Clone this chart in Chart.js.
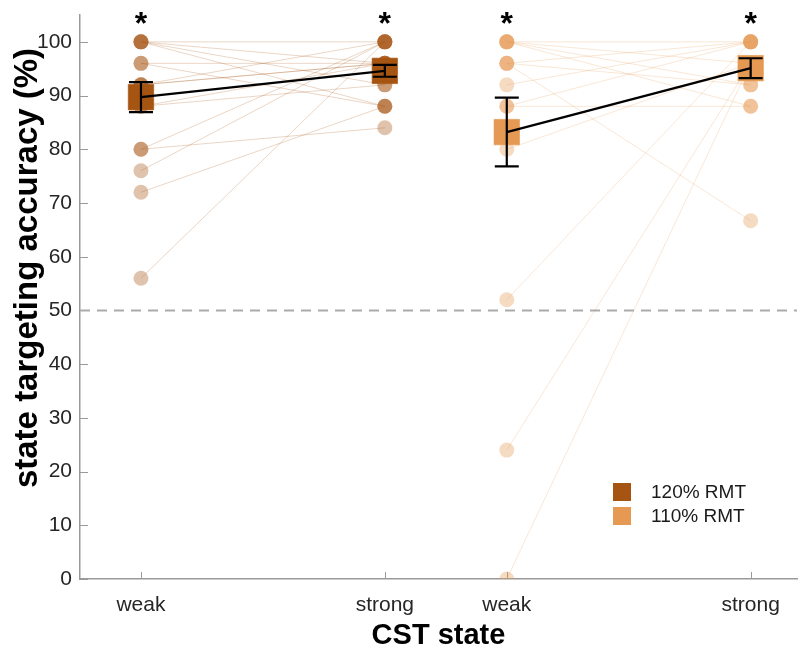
<!DOCTYPE html>
<html>
<head>
<meta charset="utf-8">
<script src="https://cdn.jsdelivr.net/npm/chart.js@4.4.1/dist/chart.umd.min.js"></script>
<style>
  body { margin: 0; background: #fff; }
  #wrap { width: 800px; height: 647px; }
</style>
</head>
<body>
<div id="wrap"><canvas id="MiGrafica" width="800" height="647"></canvas></div>
<script>
// axis ticks
const tickPos = [1, 2, 2.5, 3.5];
const tickLabels = ['weak', 'strong', 'weak', 'strong'];
const yTicks = [0, 10, 20, 30, 40, 50, 60, 70, 80, 90, 100];
const yTitle = 'state targeting accuracy (%)';

// groups
const groups = ['120% RMT', '110% RMT'];
const groupRgb = [[166, 84, 17], [229, 153, 82]];
const xWeak = [1, 2.5];
const xStrong = [2, 3.5];

// single subjects (weak -> strong)
const weak120 = [100, 100, 100, 100, 96, 96, 92, 92, 92, 88, 88, 80, 80, 76, 72, 56];
const strong120 = [100, 96, 88, 92, 96, 88, 96, 100, 96, 96, 92, 100, 84, 100, 88, 100];
const weak110 = [100, 100, 100, 100, 96, 96, 96, 92, 88, 88, 80, 52, 24, 0];
const strong110 = [100, 92, 88, 96, 100, 66.7, 92, 100, 88, 100, 96, 100, 96, 96];

// group mean +- sem
const meanWeak = [89.7, 83.2];
const semWeak = [2.8, 6.4];
const meanStrong = [94.6, 95.1];
const semStrong = [1.1, 1.85];

const chance = 50;
const starY = 104.5;

const axisGray = '#9a9a9a';
const rgba = (c, a) => 'rgba(' + c[0] + ',' + c[1] + ',' + c[2] + ',' + a + ')';

Chart.defaults.font.family = "'Liberation Sans', Arial, Helvetica, sans-serif";

function subjectData(g, weak, strong) {
    var pts = [];
    for (let i = 0; i < weak.length; i++) {
        pts.push({ x: xWeak[g], y: weak[i] });
        pts.push({ x: xStrong[g], y: strong[i] });
        pts.push({ x: xStrong[g], y: null });
    }
    return pts;
}

var datasets = [];
// mean lines (drawn on top)
for (let g = 0; g < 2; g++) {
    datasets.push({
        type: 'line',
        data: [{ x: xWeak[g], y: meanWeak[g] }, { x: xStrong[g], y: meanStrong[g] }],
        borderColor: '#000',
        borderWidth: 2.2,
        pointRadius: 0
    });
}
// mean squares
for (let g = 0; g < 2; g++) {
    datasets.push({
        type: 'scatter',
        label: groups[g],
        data: [{ x: xWeak[g], y: meanWeak[g] }, { x: xStrong[g], y: meanStrong[g] }],
        pointStyle: 'rect',
        pointRadius: 18,
        backgroundColor: rgba(groupRgb[g], 1),
        borderColor: rgba(groupRgb[g], 0.6),
        borderWidth: 1
    });
}
// subjects
[[weak120, strong120], [weak110, strong110]].forEach(function (s, g) {
    datasets.push({
        type: 'line',
        data: subjectData(g, s[0], s[1]),
        spanGaps: false,
        borderColor: rgba(groupRgb[g], 0.3),
        borderWidth: 0.8,
        pointRadius: 7.5,
        pointBorderWidth: 0,
        pointBackgroundColor: rgba(groupRgb[g], 0.35)
    });
});

const extras = {
    id: 'extras',
    beforeDatasetsDraw(chart) {
        const { ctx, chartArea, scales: { x, y } } = chart;
        ctx.save();
        ctx.strokeStyle = axisGray;
        ctx.lineWidth = 1;
        ctx.beginPath();
        yTicks.forEach(function (v) {
            const py = Math.round(y.getPixelForValue(v)) + 0.5;
            ctx.moveTo(chartArea.left, py);
            ctx.lineTo(chartArea.left + 8, py);
        });
        tickPos.forEach(function (v) {
            const px = Math.round(x.getPixelForValue(v)) + 0.5;
            ctx.moveTo(px, chartArea.bottom);
            ctx.lineTo(px, chartArea.bottom - 7);
        });
        ctx.stroke();
        // chance level
        const cy = y.getPixelForValue(chance);
        ctx.setLineDash([10, 7]);
        ctx.strokeStyle = '#ababab';
        ctx.lineWidth = 2;
        ctx.beginPath();
        ctx.moveTo(chartArea.left, cy);
        ctx.lineTo(chartArea.right, cy);
        ctx.stroke();
        ctx.restore();
        // y axis title
        ctx.save();
        ctx.translate(28, 268);
        ctx.rotate(-Math.PI / 2);
        ctx.fillStyle = '#000';
        ctx.font = "bold 33px 'Liberation Sans', Arial, sans-serif";
        ctx.textAlign = 'center';
        ctx.textBaseline = 'middle';
        ctx.fillText(yTitle, 0, 0);
        ctx.restore();
    },
    afterDatasetsDraw(chart) {
        const { ctx, chartArea, scales: { x, y } } = chart;
        ctx.save();
        // error bars
        ctx.strokeStyle = '#000';
        ctx.lineWidth = 2.2;
        const bar = function (xv, m, s) {
            const px = x.getPixelForValue(xv);
            const top = y.getPixelForValue(m + s);
            const bot = y.getPixelForValue(m - s);
            ctx.beginPath();
            ctx.moveTo(px, top); ctx.lineTo(px, bot);
            ctx.moveTo(px - 12, top); ctx.lineTo(px + 12, top);
            ctx.moveTo(px - 12, bot); ctx.lineTo(px + 12, bot);
            ctx.stroke();
        };
        for (let g = 0; g < 2; g++) {
            bar(xWeak[g], meanWeak[g], semWeak[g]);
            bar(xStrong[g], meanStrong[g], semStrong[g]);
        }
        // significance stars
        ctx.fillStyle = '#000';
        ctx.font = "bold 32px 'Liberation Sans', Arial, sans-serif";
        ctx.textAlign = 'center';
        ctx.textBaseline = 'alphabetic';
        const m = ctx.measureText('*');
        const shift = (m.actualBoundingBoxAscent - m.actualBoundingBoxDescent) / 2;
        tickPos.forEach(function (v) {
            ctx.fillText('*', x.getPixelForValue(v), y.getPixelForValue(starY) + shift);
        });
        // legend
        ctx.textAlign = 'left';
        ctx.textBaseline = 'middle';
        ctx.font = "19px 'Liberation Sans', Arial, sans-serif";
        const lx = chartArea.right - 184;
        for (let g = 0; g < 2; g++) {
            const ly = 492 + g * 24;
            ctx.fillStyle = rgba(groupRgb[g], 1);
            ctx.fillRect(lx, ly - 9, 18, 18);
            ctx.fillStyle = '#1a1a1a';
            ctx.fillText(groups[g], lx + 38, ly + 1);
        }
        ctx.restore();
    }
};

var ctx = document.getElementById('MiGrafica').getContext('2d');
var myChart = new Chart(ctx, {
    data: { datasets: datasets },
    options: {
        responsive: false,
        devicePixelRatio: 1,
        animation: false,
        events: [],
        layout: { autoPadding: false, padding: { top: 15, right: 3, left: 0, bottom: 0 } },
        plugins: { legend: { display: false }, tooltip: { enabled: false } },
        scales: {
            x: {
                type: 'linear',
                min: 0.75,
                max: 3.69,
                afterFit: function (scale) {
                    scale.height = 68;
                    scale.paddingLeft = 0;
                    scale.paddingRight = 0;
                },
                afterBuildTicks: function (scale) {
                    scale.ticks = tickPos.map(function (v) { return { value: v }; });
                },
                ticks: {
                    padding: 14,
                    color: '#262626',
                    font: { size: 21 },
                    autoSkip: false,
                    maxRotation: 0,
                    callback: function (v) { return tickLabels[tickPos.indexOf(v)]; }
                },
                grid: { display: false, drawTicks: false },
                border: { display: true, color: axisGray, width: 1.5 },
                title: {
                    display: true,
                    text: 'CST state',
                    color: '#000',
                    font: { size: 29, weight: 'bold', lineHeight: 1 },
                    padding: { top: 0, bottom: -3 }
                }
            },
            y: {
                min: 0,
                max: 105,
                afterFit: function (scale) {
                    scale.width = 80;
                    scale.paddingTop = 0;
                    scale.paddingBottom = 0;
                },
                afterBuildTicks: function (scale) {
                    scale.ticks = yTicks.map(function (v) { return { value: v }; });
                },
                ticks: {
                    padding: 8,
                    color: '#262626',
                    font: { size: 21 }
                },
                grid: { display: false, drawTicks: false },
                border: { display: true, color: axisGray, width: 1.5 }
            }
        }
    },
    plugins: [extras]
});
</script>
</body>
</html>
